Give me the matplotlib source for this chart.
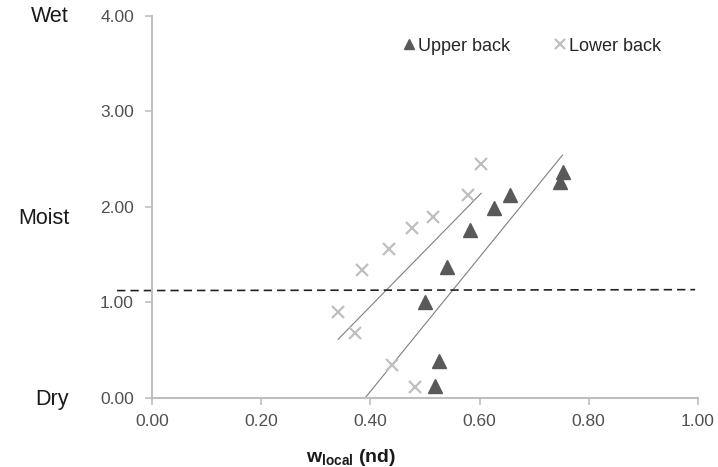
import numpy as np
import matplotlib
matplotlib.use("Agg")
import matplotlib.pyplot as plt

plt.rcParams['font.family'] = ['Liberation Sans', 'DejaVu Sans']
plt.rcParams['mathtext.fontset'] = 'custom'
plt.rcParams['mathtext.rm'] = 'Liberation Sans'
plt.rcParams['mathtext.bf'] = 'Liberation Sans:bold'

# Upper back (triangles)
upper_x = [0.519, 0.525, 0.500, 0.540, 0.582, 0.626, 0.656, 0.747, 0.752]
upper_y = [0.12, 0.38, 1.00, 1.37, 1.75, 1.99, 2.12, 2.26, 2.36]

# Lower back (crosses)
lower_x = [0.481, 0.439, 0.371, 0.341, 0.385, 0.435, 0.476, 0.514, 0.579, 0.603]
lower_y = [0.115, 0.34, 0.674, 0.894, 1.34, 1.56, 1.78, 1.89, 2.12, 2.45]

# trend lines
upper_fit_x = [0.391, 0.752]
upper_fit_y = [0.0, 2.54]
lower_fit_x = [0.341, 0.603]
lower_fit_y = [0.61, 2.14]

# threshold line
thr_x = [-0.064, 0.995]
thr_y = [1.12, 1.13]

x_ticks = [0.0, 0.2, 0.4, 0.6, 0.8, 1.0]
y_ticks = [0.0, 1.0, 2.0, 3.0, 4.0]
state_labels = ['Wet', 'Moist', 'Dry']
state_y = [3.99, 1.88, -0.02]

fig = plt.figure(figsize=(7.18, 4.67), dpi=100)
ax = fig.add_axes([0.2117, 0.1488, 0.7603, 0.8176])

ax.plot(upper_fit_x, upper_fit_y, color='#7f7f7f', lw=0.8)
ax.plot(lower_fit_x, lower_fit_y, color='#7f7f7f', lw=0.8)
ax.plot(thr_x, thr_y, color='#222222', lw=1.2, ls=(0, (5, 3)), clip_on=False)

ax.plot(upper_x, upper_y, ls='none', marker='^', ms=9.5, color='#595959',
        label='Upper back')
ax.plot(lower_x, lower_y, ls='none', marker='x', ms=8.5, mew=1.6,
        color='#bfbfbf', label='Lower back')

ax.set_xlim(0, 1)
ax.set_ylim(0, 4)
ax.set_xticks(x_ticks)
ax.set_yticks(y_ticks)
ax.set_xticklabels([f'{v:.2f}' for v in x_ticks])
ax.set_yticklabels([f'{v:.2f}' for v in y_ticks])
ax.tick_params(colors='#bfbfbf', labelcolor='#505050', labelsize=12.5,
               length=5, width=1.2)
ax.tick_params(axis='y', pad=8)
ax.tick_params(axis='x', pad=7)

for s in ['top', 'right']:
    ax.spines[s].set_visible(False)
for s in ['left', 'bottom']:
    ax.spines[s].set_color('#bfbfbf')
    ax.spines[s].set_linewidth(1.5)

for lab, yv in zip(state_labels, state_y):
    ax.text(-0.152, yv, lab, ha='right', va='center', fontsize=15.5,
            color='#1a1a1a', clip_on=False)

ax.set_xlabel(r'$\mathbf{w_{local}}$ (nd)', fontsize=14, fontweight='bold',
              color='#1a1a1a')
ax.xaxis.set_label_coords(0.365, -0.13)

leg = ax.legend(loc='upper right', bbox_to_anchor=(0.962, 0.985), ncol=2,
                frameon=False, fontsize=13, handlelength=0.7,
                handletextpad=0.15, columnspacing=2.4, markerscale=0.8)
for t in leg.get_texts():
    t.set_color('#262626')

fig.savefig('out.png', dpi=100)
